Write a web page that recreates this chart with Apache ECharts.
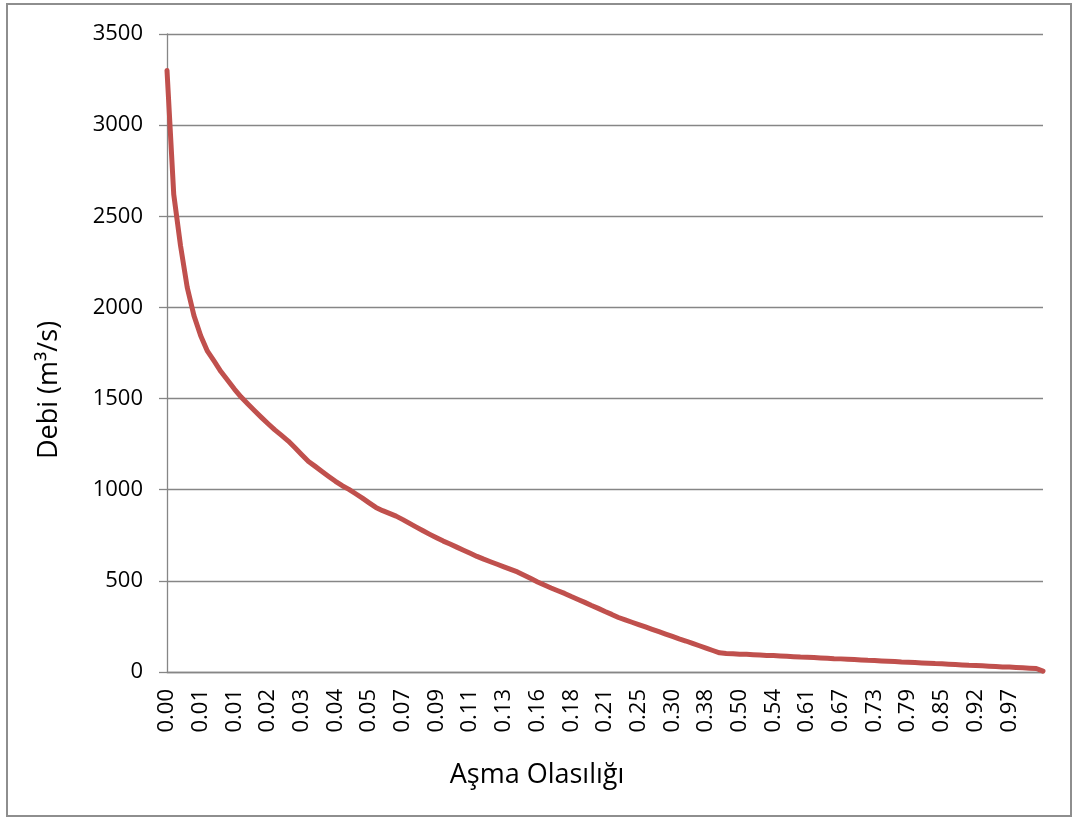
<!DOCTYPE html>
<html>
<head>
<meta charset="utf-8">
<script src="https://cdn.jsdelivr.net/npm/echarts@6/dist/echarts.min.js"></script>
<style>
html,body{margin:0;padding:0;background:#fff;}
#chart{width:1075px;height:817px;}
</style>
</head>
<body>
<div id="chart"></div>
<script>
// Exceedance probability (category axis)
const categories = [
"0.00","0.00","0.00","0.00","0.01","0.01","0.01","0.01","0.01","0.01",
"0.01","0.01","0.02","0.02","0.02","0.02","0.02","0.02","0.03","0.03",
"0.03","0.03","0.03","0.04","0.04","0.04","0.04","0.04","0.05","0.05",
"0.05","0.05","0.06","0.06","0.06","0.07","0.07","0.08","0.08","0.08",
"0.09","0.09","0.10","0.10","0.10","0.11","0.11","0.12","0.12","0.13",
"0.13","0.14","0.14","0.15","0.15","0.16","0.16","0.17","0.17","0.18",
"0.18","0.19","0.19","0.20","0.20","0.21","0.22","0.23","0.23","0.24",
"0.25","0.26","0.27","0.28","0.29","0.30","0.31","0.33","0.34","0.36",
"0.38","0.41","0.43","0.46","0.48","0.50","0.51","0.52","0.53","0.53",
"0.54","0.55","0.57","0.58","0.60","0.61","0.62","0.64","0.65","0.66",
"0.67","0.68","0.70","0.71","0.72","0.73","0.74","0.76","0.77","0.78",
"0.79","0.80","0.82","0.83","0.84","0.85","0.86","0.88","0.89","0.91",
"0.92","0.93","0.94","0.95","0.96","0.97","0.98","0.98","0.99","0.99",
"1.00"];
// Discharge (m3/s)
const debi = [
3300,2620,2340,2110,1955,1845,1760,1705,1648,1600,
1552,1508,1470,1433,1397,1362,1328,1298,1267,1230,
1192,1155,1128,1100,1073,1046,1022,1002,978,954,
928,903,885,870,855,836,815,795,775,755,
736,718,702,685,668,651,634,619,605,591,
577,563,549,531,513,494,477,461,446,431,
414,398,382,365,349,332,316,299,286,273,
260,247,234,221,208,195,182,170,157,144,
131,118,105,102,100,98,97,95,93,91,
90,88,86,84,82,81,79,77,75,73,
72,70,68,66,64,63,61,59,57,55,
54,52,50,48,46,45,43,41,39,37,
36,34,32,30,28,27,25,23,21,19,
5];
const yTicks = {min:0, max:3500, interval:500};
const labelEvery = 5;
const xTitle = "Aşma Olasılığı";
const yTitle = "Debi (m³/s)";

const chart = echarts.init(document.getElementById('chart'), null, {renderer:'canvas'});
const font = "'Open Sans', sans-serif";
chart.setOption({
  animation:false,
  backgroundColor:'#fff',
  grid:{left:167, right:32, top:34, bottom:145, containLabel:false},
  xAxis:{
    type:'category', data:categories, boundaryGap:false,
    axisLine:{show:true, lineStyle:{color:'#868686', width:1.3}},
    axisTick:{show:false},
    axisLabel:{
      interval:function(i){ return i % labelEvery === 0 && i < categories.length - 1; },
      rotate:90, margin:17, color:'#000', fontSize:22, fontFamily:font
    },
    splitLine:{show:false}
  },
  yAxis:{
    type:'value', min:yTicks.min, max:yTicks.max, interval:yTicks.interval,
    axisLine:{show:true, lineStyle:{color:'#868686', width:1.3}},
    axisTick:{show:true, length:8, inside:false, lineStyle:{color:'#868686', width:1.3}},
    axisLabel:{margin:24, color:'#000', fontSize:22, fontFamily:font, formatter:function(v){return String(v);}},
    splitLine:{show:true, lineStyle:{color:'#868686', width:1.3}}
  },
  series:[{
    type:'line', data:debi, showSymbol:false, symbol:'none', smooth:false,
    lineStyle:{color:'#C0504D', width:5, cap:'round', join:'round'}
  }],
  graphic:[
    {type:'rect', shape:{x:7, y:4, width:1064, height:812}, style:{fill:'none', stroke:'#8e8e8e', lineWidth:2}, silent:true},
    {type:'text', x:537, y:775, style:{text:xTitle, fill:'#000', font:"27px 'Open Sans', sans-serif", textAlign:'center', textVerticalAlign:'middle'}},
    {type:'text', x:49, y:390, rotation:Math.PI/2, style:{text:yTitle, fill:'#000', font:"27px 'Open Sans', sans-serif", textAlign:'center', textVerticalAlign:'middle'}}
  ]
});
</script>
</body>
</html>
